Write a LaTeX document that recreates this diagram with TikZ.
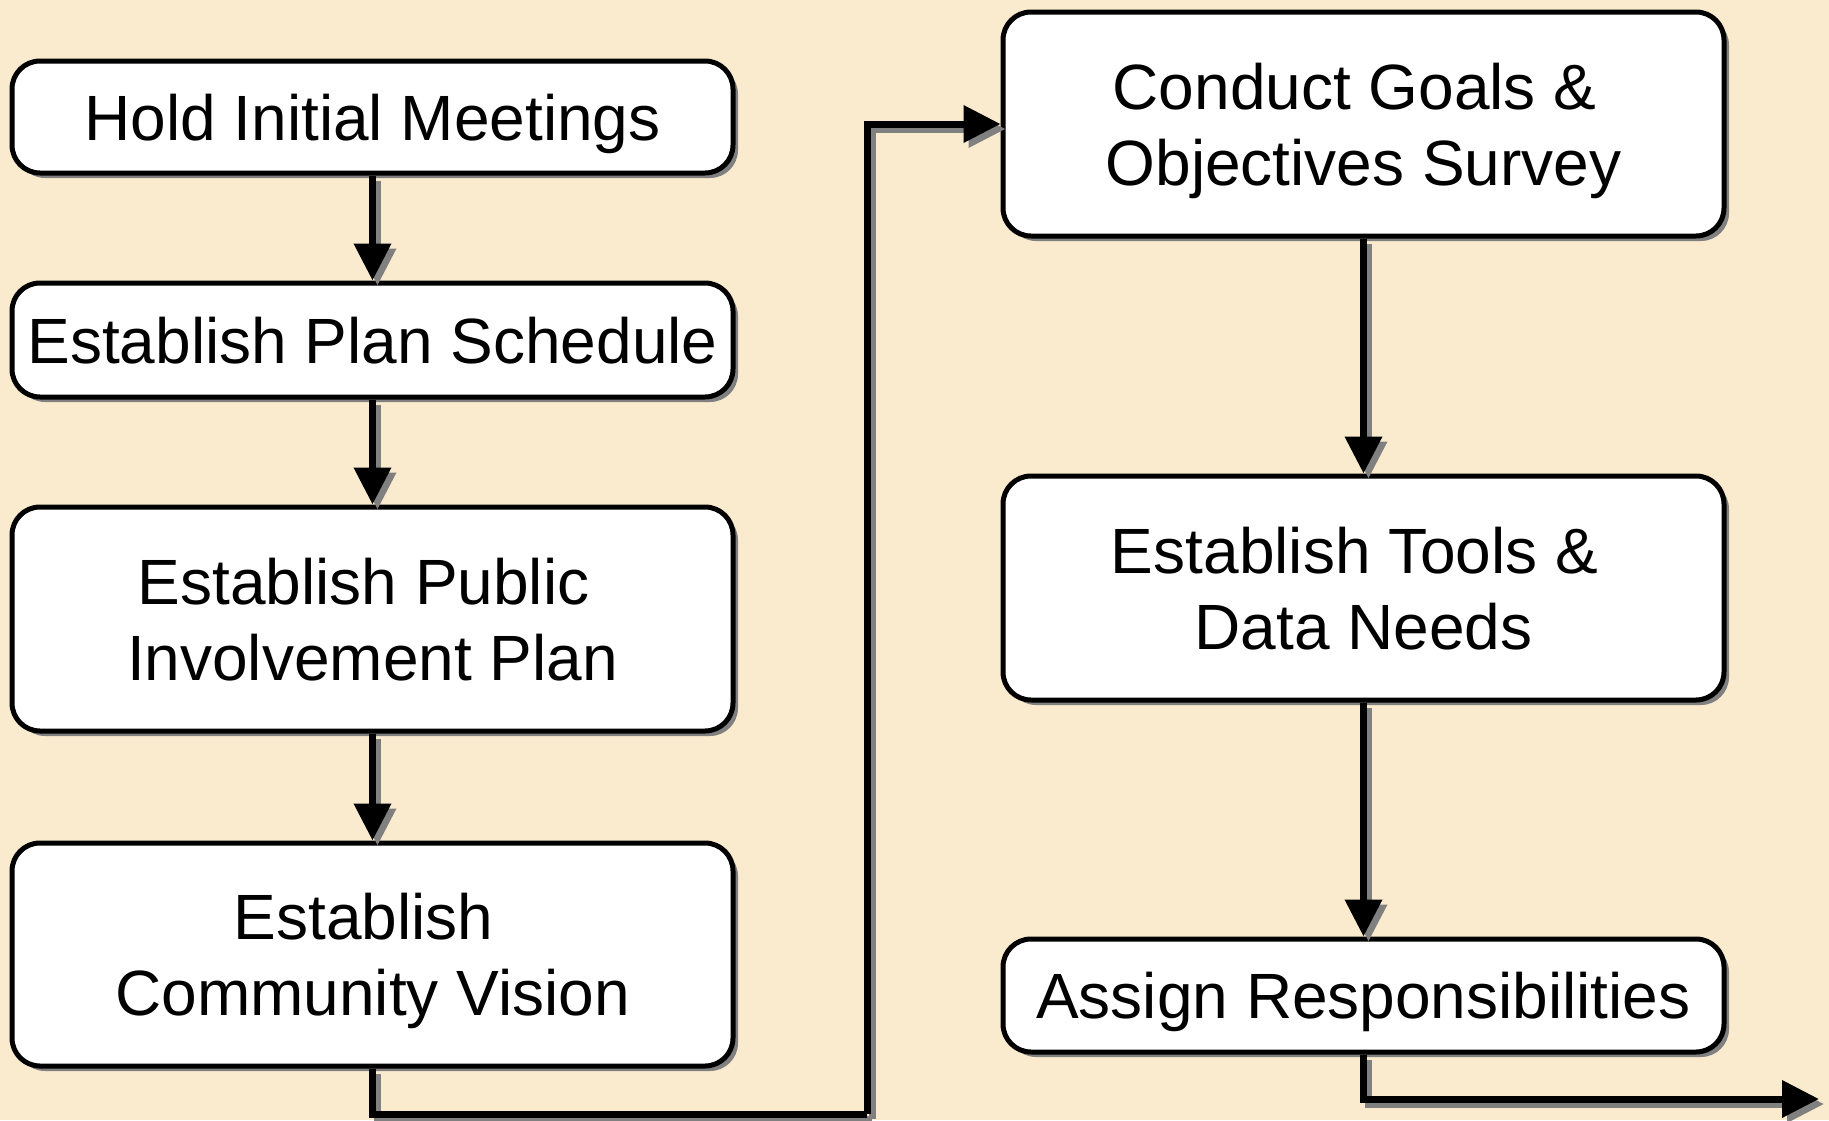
\documentclass[tikz,border=0pt]{standalone}
\usepackage{fontspec}
\setmainfont{Liberation Sans}
\usetikzlibrary{arrows.meta,shadows}
\definecolor{bg}{RGB}{250,235,206}
\definecolor{shad}{RGB}{128,128,128}
\newcommand{\tsp}{\hspace*{17.8pt}}
\tikzset{
  stepbox/.style={draw=black, fill=white, line width=5pt, rounded corners=28pt,
    minimum width=721pt, inner sep=0pt, align=center, text depth=0pt,
    font=\fontsize{64}{76}\selectfont,
    drop shadow={shadow xshift=5pt, shadow yshift=-5pt, fill=shad, opacity=1}},
  connbase/.style={line width=7pt, -{Triangle[length=37pt,width=36pt]}},
  connshadow/.style={connbase, draw=shad, transform canvas={shift={(5pt,-5pt)}}},
  connmain/.style={connbase, draw=black},
}
\begin{document}
\begin{tikzpicture}[x=1pt,y=-1pt]
\useasboundingbox (0,0) rectangle (1829,1120);
\fill[bg] (0,0) rectangle (1829,1120);
\node[stepbox, minimum height=112pt] (b1) at (372.5,117) {Hold Initial Meetings};
\node[stepbox, minimum height=114pt] (b2) at (372.5,340) {Establish Plan Schedule};
\node[stepbox, minimum height=224pt] (b3) at (372.5,619) {Establish Public\tsp\\Involvement Plan};
\node[stepbox, minimum height=223pt] (b4) at (372.5,954.5) {Establish\tsp\\Community Vision};
\node[stepbox, minimum height=224pt] (b5) at (1363.5,124) {Conduct Goals \&\tsp\\Objectives Survey};
\node[stepbox, minimum height=224pt] (b6) at (1363.5,588) {Establish Tools \&\tsp\\Data Needs};
\node[stepbox, minimum height=113pt] (b7) at (1363.5,995.5) {Assign Responsibilities};
\coordinate (c1) at (867,1114);
\coordinate (cend) at (1819,1099);
\foreach \st in {connshadow,connmain}{
  \draw[\st] (b1.south) -- (b2.north);
  \draw[\st] (b2.south) -- (b3.north);
  \draw[\st] (b3.south) -- (b4.north);
  \draw[\st, -] (b4.south) |- (c1);
  \draw[\st] (c1) |- (b5.west);
  \draw[\st] (b5.south) -- (b6.north);
  \draw[\st] (b6.south) -- (b7.north);
  \draw[\st] (b7.south) |- (cend);
}
\end{tikzpicture}
\end{document}
